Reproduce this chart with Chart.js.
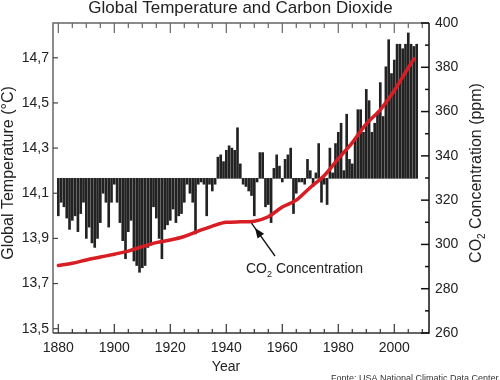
<!DOCTYPE html>
<html>
  <head>
    <title>Global Temperature and Carbon Dioxide</title>
    <meta charset="utf-8" />
    <style>
      body { margin: 0; background: #fff; }
      canvas { display: block; }
    </style>
  </head>
  <body>
    <canvas id="myChart" width="500" height="380"></canvas>
    <script src="https://cdn.jsdelivr.net/npm/chart.js@4.4.0/dist/chart.umd.min.js"></script>
    <script>
      // yearly global temperature (°C), 1880 .. 2008
      const firstYear = 1880;
      const temps = [
        14.00, 14.06, 14.04, 13.99, 13.94, 13.98, 14.00, 13.93, 14.01, 14.06,
        13.90, 13.95, 13.88, 13.86, 13.90, 13.97, 14.10, 14.06, 13.95, 14.06,
        14.14, 14.06, 13.97, 13.89, 13.81, 13.93, 13.98, 13.80, 13.78, 13.75,
        13.77, 13.78, 13.86, 13.87, 14.04, 13.99, 13.90, 13.81, 13.94, 13.96,
        13.98, 14.03, 13.97, 14.00, 14.01, 14.06, 14.14, 14.10, 14.06, 13.92,
        14.14, 14.15, 14.14, 14.00, 14.14, 14.11, 14.14, 14.26, 14.27, 14.24,
        14.29, 14.31, 14.30, 14.29, 14.39, 14.23, 14.14, 14.13, 14.11, 14.09,
        14.00, 14.15, 14.28, 14.28, 14.04, 14.05, 13.97, 14.21, 14.27, 14.22,
        14.15, 14.25, 14.27, 14.30, 14.01, 14.10, 14.15, 14.15, 14.14, 14.25,
        14.20, 14.13, 14.19, 14.32, 14.06, 14.14, 14.05, 14.30, 14.19, 14.32,
        14.37, 14.41, 14.20, 14.45, 14.25, 14.23, 14.34, 14.47, 14.47, 14.37,
        14.56, 14.51, 14.37, 14.41, 14.46, 14.59, 14.44, 14.66, 14.78, 14.63,
        14.69, 14.76, 14.76, 14.74, 14.76, 14.81, 14.76, 14.75, 14.76
      ];
      const years = temps.map((t, i) => firstYear + i);
      const baseTemp = 14.166; // bars hang from this level

      // CO2 concentration (ppm)
      const co2Years = [1880, 1885, 1890, 1895, 1900, 1905, 1910, 1915, 1920, 1925,
        1930, 1935, 1940, 1945, 1950, 1955, 1960, 1965, 1970, 1975,
        1980, 1985, 1990, 1995, 2000, 2005, 2007];
      const co2 = [290.5, 291.5, 293.0, 294.3, 295.6, 297.0, 299.0, 300.8, 302.0, 303.6,
        306.0, 308.3, 310.0, 310.2, 310.5, 312.5, 316.9, 320.0, 325.7, 331.1,
        338.7, 346.0, 354.4, 360.8, 369.5, 379.8, 383.8];

      // tick labels
      const xTicks = [1880, 1900, 1920, 1940, 1960, 1980, 2000];
      const tempTicks = [13.5, 13.7, 13.9, 14.1, 14.3, 14.5, 14.7];
      const co2Ticks = [260, 280, 300, 320, 340, 360, 380, 400];

      const FONT = "'Liberation Sans', Arial, sans-serif";
      const txt = "#222";

      function subText(ctx, parts, x, y) {
        let cx = x;
        parts.forEach(([s, size, dy]) => {
          ctx.font = size + "px " + FONT;
          ctx.fillText(s, cx, y + dy);
          cx += ctx.measureText(s).width;
        });
      }
      function subWidth(ctx, parts) {
        let w = 0;
        parts.forEach(([s, size]) => {
          ctx.font = size + "px " + FONT;
          w += ctx.measureText(s).width;
        });
        return w;
      }

      const decor = {
        id: "decor",
        afterDraw(chart) {
          const { ctx, chartArea: a } = chart;
          const x = chart.scales.x, y = chart.scales.y, y2 = chart.scales.y2;
          ctx.save();
          ctx.lineWidth = 1.5;
          ctx.lineCap = "butt";

          // frame
          ctx.strokeStyle = "#666";
          ctx.beginPath();
          ctx.moveTo(a.left, a.bottom); ctx.lineTo(a.left, a.top); ctx.lineTo(a.right, a.top);
          ctx.stroke();
          ctx.strokeStyle = "#333";
          ctx.beginPath(); ctx.moveTo(a.left, a.bottom); ctx.lineTo(a.right, a.bottom); ctx.stroke();
          ctx.strokeStyle = "#111";
          ctx.beginPath(); ctx.moveTo(a.right, a.top); ctx.lineTo(a.right, a.bottom + 0.75); ctx.stroke();

          // year ticks, top and bottom
          ctx.lineWidth = 1.2;
          for (let v = 1880; v <= 2010; v += 5) {
            const px = x.getPixelForValue(v);
            const major = v % 20 === 0;
            ctx.strokeStyle = "#333";
            ctx.beginPath(); ctx.moveTo(px, a.bottom); ctx.lineTo(px, a.bottom - (major ? 9 : 4)); ctx.stroke();
            ctx.strokeStyle = "#666";
            ctx.beginPath(); ctx.moveTo(px, a.top); ctx.lineTo(px, a.top + (major ? 10 : 5)); ctx.stroke();
          }
          // temperature ticks
          ctx.strokeStyle = "#444";
          tempTicks.forEach(v => {
            const py = y.getPixelForValue(v);
            ctx.beginPath(); ctx.moveTo(a.left, py); ctx.lineTo(a.left + 5, py); ctx.stroke();
          });
          // co2 ticks
          ctx.strokeStyle = "#111";
          ctx.lineWidth = 1.5;
          for (let v = 260; v <= 400; v += 10) {
            const py = y2.getPixelForValue(v);
            const len = v % 20 === 0 ? 8 : 4;
            ctx.beginPath(); ctx.moveTo(a.right, py); ctx.lineTo(a.right - len, py); ctx.stroke();
          }

          ctx.fillStyle = txt;
          // title
          ctx.font = "17px " + FONT;
          ctx.textAlign = "center";
          ctx.textBaseline = "alphabetic";
          ctx.fillText("Global Temperature and Carbon Dioxide", 240.5, 13);
          // x title
          ctx.font = "14px " + FONT;
          ctx.fillText("Year", 226, 371);

          // left title
          ctx.save();
          ctx.translate(9, 173);
          ctx.rotate(-Math.PI / 2);
          ctx.font = "16px " + FONT;
          ctx.textBaseline = "middle";
          ctx.fillText("Global Temperature (°C)", 0, 0);
          ctx.restore();

          // right title
          const rParts = [["CO", 16, 0], ["2", 10, 5], [" Concentration (ppm)", 16, 0]];
          ctx.save();
          ctx.translate(477, 173);
          ctx.rotate(-Math.PI / 2);
          ctx.textAlign = "left";
          ctx.textBaseline = "middle";
          subText(ctx, rParts, -subWidth(ctx, rParts) / 2, 0);
          ctx.restore();

          // annotation
          ctx.textAlign = "left";
          ctx.textBaseline = "alphabetic";
          subText(ctx, [["CO", 14, 0], ["2", 9, 4], [" Concentration", 14, 0]], 246, 273);
          // arrow
          const x0 = 275, y0 = 256, x1 = 255, y1 = 228;
          const ang = Math.atan2(y1 - y0, x1 - x0);
          ctx.strokeStyle = "#111";
          ctx.lineWidth = 1.3;
          ctx.beginPath();
          ctx.moveTo(x0, y0);
          ctx.lineTo(x1 - 6 * Math.cos(ang) * -1, y1 - 6 * Math.sin(ang) * -1);
          ctx.stroke();
          ctx.fillStyle = "#111";
          ctx.beginPath();
          ctx.moveTo(x1, y1);
          ctx.lineTo(x1 - 10 * Math.cos(ang) + 4 * Math.sin(ang), y1 - 10 * Math.sin(ang) - 4 * Math.cos(ang));
          ctx.lineTo(x1 - 10 * Math.cos(ang) - 4 * Math.sin(ang), y1 - 10 * Math.sin(ang) + 4 * Math.cos(ang));
          ctx.closePath();
          ctx.fill();

          // source
          ctx.fillStyle = "#333";
          ctx.font = "9px " + FONT;
          ctx.fillText("Fonte: USA National Climatic Data Center", 331, 381);
          ctx.restore();
        }
      };

      const tickFont = { family: FONT, size: 14 };

      new Chart(document.getElementById("myChart"), {
        type: "bar",
        data: {
          datasets: [
            {
              type: "line",
              data: co2Years.map((yr, i) => ({ x: yr, y: co2[i] })),
              yAxisID: "y2",
              borderColor: "#d81e25",
              borderWidth: 3.5,
              borderCapStyle: "round",
              pointRadius: 0,
              cubicInterpolationMode: "monotone",
              fill: false,
              order: 0
            },
            {
              type: "bar",
              data: years.map((yr, i) => ({ x: yr, y: temps[i] })),
              base: baseTemp,
              yAxisID: "y",
              backgroundColor: "#222",
              borderWidth: 0,
              barThickness: 2,
              order: 1
            }
          ]
        },
        options: {
          responsive: false,
          animation: false,
          layout: { padding: { top: 23, left: 0, right: 0, bottom: 0 } },
          plugins: { legend: { display: false }, tooltip: { enabled: false }, title: { display: false } },
          scales: {
            x: {
              type: "linear",
              offset: false,
              min: 1878.1,
              max: 2012.4,
              grid: { display: false, drawTicks: false },
              border: { display: false },
              afterBuildTicks: s => { s.ticks = xTicks.map(v => ({ value: v })); },
              afterFit: s => { s.height = 47; },
              ticks: { font: tickFont, color: txt, padding: 7, maxRotation: 0, autoSkip: false, callback: v => String(v) }
            },
            y: {
              type: "linear",
              position: "left",
              min: 13.481,
              max: 14.854,
              grid: { display: false, drawTicks: false },
              border: { display: false },
              afterBuildTicks: s => { s.ticks = tempTicks.map(v => ({ value: v })); },
              afterFit: s => { s.width = 53; },
              ticks: { font: tickFont, color: txt, padding: 4, callback: v => v.toFixed(1).replace(".", ",") }
            },
            y2: {
              type: "linear",
              position: "right",
              min: 260,
              max: 400,
              grid: { display: false, drawTicks: false },
              border: { display: false },
              afterBuildTicks: s => { s.ticks = co2Ticks.map(v => ({ value: v })); },
              afterFit: s => { s.width = 71; },
              ticks: { font: tickFont, color: txt, padding: 6 }
            }
          }
        },
        plugins: [decor]
      });
    </script>
  </body>
</html>
